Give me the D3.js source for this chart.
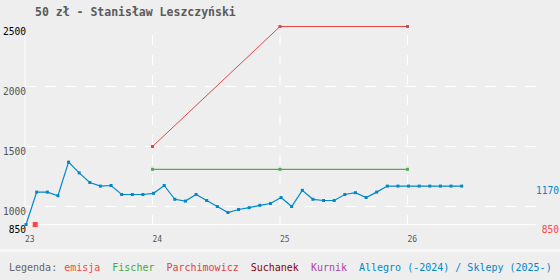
<!DOCTYPE html>
<html>
<head>
<meta charset="utf-8">
<script src="https://cdn.jsdelivr.net/npm/d3@7"></script>
<style>
  body { margin: 0; background: #eee; }
  svg { display: block; font-family: "DejaVu Sans Mono", monospace; }
</style>
</head>
<body>
<div id="chart"></div>
<script>
// chart size
const width = 560;
const height = 280;

// title
const title = "50 zł - Stanisław Leszczyński";

// years on the x axis
const yearTicks = [23, 24, 25, 26];
// y axis ticks
const valueTicks = [850, 1000, 1500, 2000, 2500];

// Allegro / Sklepy - monthly from Jan 2023
const allegroValues = [850, 1120, 1120, 1090, 1370, 1280, 1200, 1170, 1175, 1100,
  1100, 1100, 1110, 1175, 1060, 1045, 1100, 1050, 1000, 950,
  975, 990, 1010, 1025, 1075, 1000, 1135, 1060, 1050, 1050,
  1100, 1115, 1075, 1120, 1170, 1170, 1170, 1170, 1170, 1170,
  1170, 1170];

// Parchimowicz
const parchYears = [24, 25, 26];
const parchValues = [1500, 2500, 2500];

// Fischer
const fischerYears = [24, 25, 26];
const fischerValues = [1310, 1310, 1310];

// emisja
const emisjaYears = [23.08];
const emisjaValues = [850];

// legend
const legendNames = ["emisja", "Fischer", "Parchimowicz", "Suchanek", "Kurnik", "Allegro (-2024) / Sklepy (2025-)"];
const legendColors = ["#ff4444", "#44aa44", "#dd4444", "#880000", "#aa44aa", "#0088cc"];

const svg = d3.select("#chart")
  .append("svg")
  .attr("width", width)
  .attr("height", height);

svg.append("rect").attr("width", width).attr("height", height).attr("fill", "#eee");
svg.append("rect").attr("y", 249).attr("width", width).attr("height", 3).attr("fill", "#f8f8f8");

// scales
const x = d3.scaleLinear().domain([23, 27]).range([25, 535]);
const y = d3.scaleLinear().domain([850, 2500]).range([224.5, 26.5]);

// title
svg.append("text")
  .attr("x", 35).attr("y", 16)
  .attr("font-size", "11.5px")
  .attr("font-weight", "bold")
  .attr("fill", "#5a5a5a")
  .text(title);

// horizontal grid
svg.append("g")
  .selectAll("line")
  .data(valueTicks.filter(d => d > 850 && d < 2500))
  .join("line")
    .attr("x1", x(23)).attr("x2", x(27) + 1)
    .attr("y1", d => y(d)).attr("y2", d => y(d))
    .attr("stroke", "#fff")
    .attr("stroke-dasharray", "11,9");

// vertical grid
svg.append("g")
  .selectAll("line")
  .data(yearTicks.slice(1))
  .join("line")
    .attr("x1", d => x(d)).attr("x2", d => x(d))
    .attr("y1", 35).attr("y2", 229)
    .attr("stroke", "#fff")
    .attr("stroke-dasharray", "10,10");

// axes lines
svg.append("line")
  .attr("x1", x(23)).attr("x2", x(23))
  .attr("y1", 33).attr("y2", 229)
  .attr("stroke", "#fff");
svg.append("line")
  .attr("x1", x(23)).attr("x2", x(27) + 1)
  .attr("y1", y(850)).attr("y2", y(850))
  .attr("stroke", "#fff");

// y labels
svg.append("g")
  .selectAll("text")
  .data(valueTicks)
  .join("text")
    .attr("x", x(23) + 1)
    .attr("y", d => y(d) + 8)
    .attr("text-anchor", "end")
    .attr("font-size", "9.6px")
    .attr("fill", d => (d === 850 || d === 2500) ? "#000" : "#555")
    .text(d => d);

// x labels
svg.append("g")
  .selectAll("text")
  .data(yearTicks)
  .join("text")
    .attr("x", d => x(d))
    .attr("y", 242)
    .attr("font-size", "8px")
    .attr("fill", "#555")
    .text(d => d);

// line helper
const line = d3.line().x(d => x(d[0])).y(d => y(d[1]));

function drawSeries(data, color, size, lineWidth) {
  svg.append("path")
    .datum(data)
    .attr("d", line)
    .attr("fill", "none")
    .attr("stroke", color)
    .attr("stroke-width", lineWidth);
  svg.append("g")
    .selectAll("rect")
    .data(data)
    .join("rect")
      .attr("x", d => x(d[0]) - size / 2)
      .attr("y", d => y(d[1]) - size / 2)
      .attr("width", size)
      .attr("height", size)
      .attr("fill", color);
}

drawSeries(parchYears.map((d, i) => [d, parchValues[i]]), "#e04848", 3, 1);
drawSeries(fischerYears.map((d, i) => [d, fischerValues[i]]), "#55aa55", 3, 1.2);
drawSeries(allegroValues.map((v, i) => [23 + (i + 0.1) / 12, v]), "#0088cc", 3, 1.2);
drawSeries(emisjaYears.map((d, i) => [d, emisjaValues[i]]), "#ff4444", 5, 1);

// right labels
const lastAllegro = allegroValues[allegroValues.length - 1];
svg.append("text")
  .attr("x", 559).attr("y", y(lastAllegro) + 8)
  .attr("text-anchor", "end")
  .attr("font-size", "9.6px")
  .attr("fill", "#0088cc")
  .text(lastAllegro);
svg.append("text")
  .attr("x", 559).attr("y", y(emisjaValues[0]) + 8)
  .attr("text-anchor", "end")
  .attr("font-size", "9.6px")
  .attr("fill", "#ff4444")
  .text(emisjaValues[0]);

// legend
const legend = svg.append("g").attr("font-size", "10px");
const lead = legend.append("text")
  .attr("x", 9).attr("y", 271)
  .attr("fill", "#666")
  .text("Legenda:");
let lx = 9 + lead.node().getComputedTextLength() + 7;
legendNames.forEach((name, i) => {
  const t = legend.append("text")
    .attr("x", lx).attr("y", 271)
    .attr("fill", legendColors[i])
    .text(name);
  lx += t.node().getComputedTextLength() + 12;
});
</script>
</body>
</html>
